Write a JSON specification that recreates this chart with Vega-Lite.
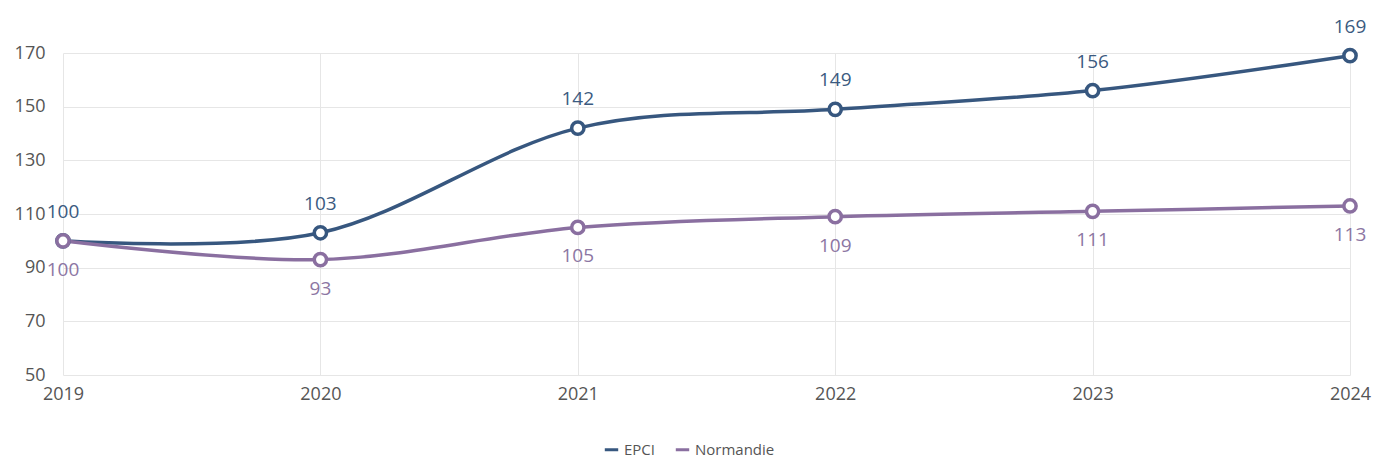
{
  "$schema": "https://vega.github.io/schema/vega-lite/v6.json",
  "width": 1287,
  "height": 322,
  "autosize": {"type": "none"},
  "padding": {"left": 63, "top": 53, "right": 25, "bottom": 88},
  "data": {
    "values": [
      {"annee": "2019", "serie": "EPCI", "valeur": 100},
      {"annee": "2020", "serie": "EPCI", "valeur": 103},
      {"annee": "2021", "serie": "EPCI", "valeur": 142},
      {"annee": "2022", "serie": "EPCI", "valeur": 149},
      {"annee": "2023", "serie": "EPCI", "valeur": 156},
      {"annee": "2024", "serie": "EPCI", "valeur": 169},
      {"annee": "2019", "serie": "Normandie", "valeur": 100},
      {"annee": "2020", "serie": "Normandie", "valeur": 93},
      {"annee": "2021", "serie": "Normandie", "valeur": 105},
      {"annee": "2022", "serie": "Normandie", "valeur": 109},
      {"annee": "2023", "serie": "Normandie", "valeur": 111},
      {"annee": "2024", "serie": "Normandie", "valeur": 113}
    ]
  },
  "encoding": {
    "x": {
      "field": "annee",
      "type": "ordinal",
      "scale": {"type": "point", "padding": 0},
      "axis": {"title": null, "labelAngle": 0, "grid": true, "ticks": false, "domain": false, "labelPadding": 10}
    },
    "y": {
      "field": "valeur",
      "type": "quantitative",
      "scale": {"domain": [50, 170], "nice": false, "zero": false},
      "axis": {"title": null, "values": [50, 70, 90, 110, 130, 150, 170], "ticks": false, "domain": false, "labelPadding": 18}
    }
  },
  "layer": [
    {
      "mark": {"type": "line", "interpolate": "cardinal", "strokeWidth": 3.5},
      "encoding": {
        "color": {
          "field": "serie",
          "type": "nominal",
          "scale": {"domain": ["EPCI", "Normandie"], "range": ["#37577f", "#8a6fa0"]},
          "legend": {
            "title": null,
            "orient": "none",
            "legendX": 540,
            "legendY": 388,
            "direction": "horizontal",
            "symbolType": "M-1,0H1",
            "symbolStrokeWidth": 3,
            "symbolSize": 180,
            "labelFontSize": 15,
            "labelColor": "#555555",
            "labelFont": "Open Sans",
            "columnPadding": 14
          }
        }
      }
    },
    {
      "mark": {"type": "point", "filled": false, "fill": "white", "fillOpacity": 1, "strokeWidth": 3.5, "size": 150, "opacity": 1},
      "encoding": {
        "stroke": {"field": "serie", "type": "nominal", "scale": {"domain": ["EPCI", "Normandie"], "range": ["#37577f", "#8a6fa0"]}, "legend": null}
      }
    },
    {
      "transform": [{"filter": "datum.serie == 'EPCI'"}],
      "mark": {"type": "text", "dy": -29, "fontSize": 19, "font": "Open Sans", "color": "#3b5a80"},
      "encoding": {"text": {"field": "valeur", "type": "quantitative"}}
    },
    {
      "transform": [{"filter": "datum.serie == 'Normandie'"}],
      "mark": {"type": "text", "dy": 29, "fontSize": 19, "font": "Open Sans", "color": "#8c76a3"},
      "encoding": {"text": {"field": "valeur", "type": "quantitative"}}
    }
  ],
  "config": {
    "view": {"stroke": null},
    "axis": {"labelFont": "Open Sans", "labelFontSize": 18, "labelColor": "#555555", "gridColor": "#e6e6e6", "gridWidth": 1}
  }
}
